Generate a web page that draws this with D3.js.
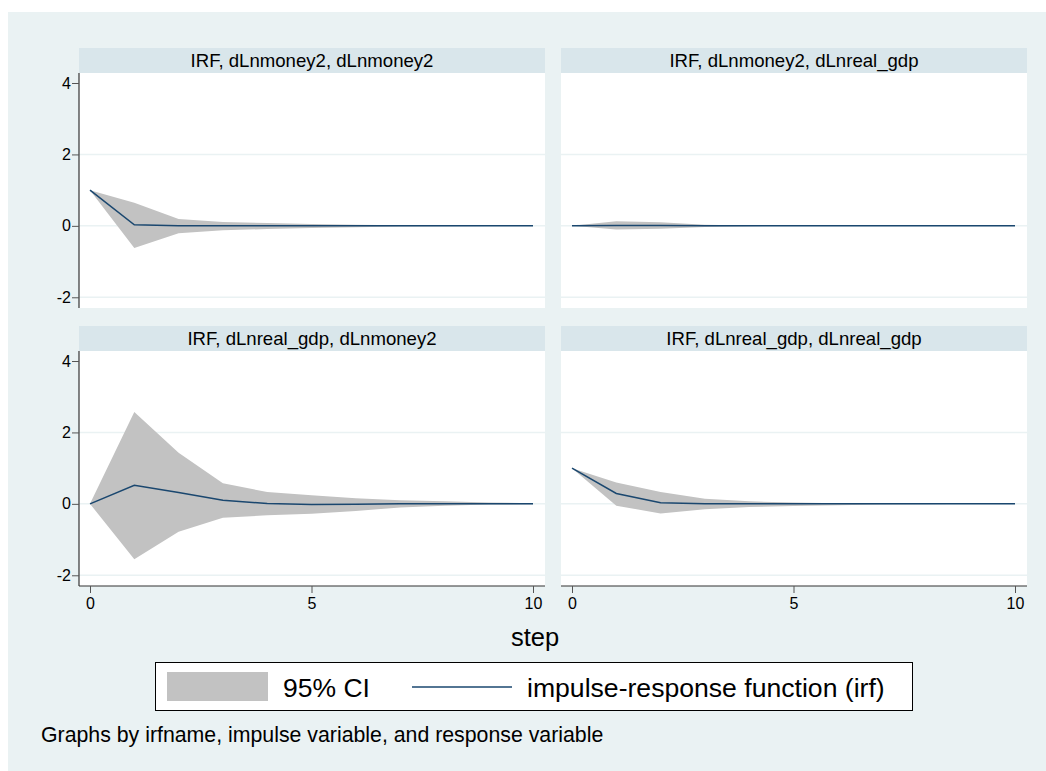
<!DOCTYPE html>
<html lang="en">
<head>
<meta charset="UTF-8">
<title>IRF graphs</title>
<style>
  body, html { margin: 0; padding: 0; background: #fff; }
  svg { display: block; font-family: "Liberation Sans", Arial, sans-serif; }
</style>
</head>
<body>
<svg id="chart" width="1046" height="771"></svg>

<script src="https://cdn.jsdelivr.net/npm/d3@7"></script>
<script>
// step axis
const steps = [0, 1, 2, 3, 4, 5, 6, 7, 8, 9, 10];
const yTicks = [-2, 0, 2, 4];
const xTicks = [0, 5, 10];

const panelTitles = [
  "IRF, dLnmoney2, dLnmoney2",
  "IRF, dLnmoney2, dLnreal_gdp",
  "IRF, dLnreal_gdp, dLnmoney2",
  "IRF, dLnreal_gdp, dLnreal_gdp"
];

// impulse dLnmoney2 -> response dLnmoney2
const irfMM   = [1, 0.03, 0, 0, 0, 0, 0, 0, 0, 0, 0];
const lowerMM = [1, -0.62, -0.21, -0.12, -0.09, -0.06, -0.04, -0.02, -0.01, -0.005, 0];
const upperMM = [1, 0.65, 0.19, 0.11, 0.08, 0.05, 0.03, 0.02, 0.01, 0.005, 0];

// impulse dLnmoney2 -> response dLnreal_gdp
const irfMG   = [0, 0.01, 0.01, 0, 0, 0, 0, 0, 0, 0, 0];
const lowerMG = [0, -0.1, -0.08, -0.03, -0.01, 0, 0, 0, 0, 0, 0];
const upperMG = [0, 0.13, 0.1, 0.03, 0.01, 0, 0, 0, 0, 0, 0];

// impulse dLnreal_gdp -> response dLnmoney2
const irfGM   = [0, 0.52, 0.32, 0.1, 0.01, -0.02, -0.01, 0, 0, 0, 0];
const lowerGM = [0, -1.55, -0.78, -0.39, -0.32, -0.28, -0.2, -0.1, -0.05, -0.02, -0.01];
const upperGM = [0, 2.57, 1.43, 0.58, 0.33, 0.24, 0.16, 0.1, 0.07, 0.04, 0.02];

// impulse dLnreal_gdp -> response dLnreal_gdp
const irfGG   = [1, 0.29, 0.03, 0, 0, 0, 0, 0, 0, 0, 0];
const lowerGG = [1, -0.05, -0.27, -0.15, -0.09, -0.06, -0.04, -0.02, -0.01, 0, 0];
const upperGG = [1, 0.6, 0.33, 0.14, 0.07, 0.04, 0.02, 0.01, 0, 0, 0];

const irfs   = [irfMM, irfMG, irfGM, irfGG];
const lowers = [lowerMM, lowerMG, lowerGM, lowerGG];
const uppers = [upperMM, upperMG, upperGM, upperGG];

const bgColor = "#eaf2f3";
const stripColor = "#d9e6eb";
const ciColor = "#c2c2c2";
const lineColor = "#1a476f";

const svg = d3.select("#chart");

// outer graph region
svg.append("rect")
  .attr("x", 8).attr("y", 12)
  .attr("width", 1038).attr("height", 759)
  .attr("fill", bgColor);

// panel geometry
const colX = [79, 561];
const rowY = [48, 326];
const panelW = 466;
const stripH = 25;
const plotH = 235;

const y = d3.scaleLinear().domain([-2.3, 4.28]).range([plotH, 0]);

panelTitles.forEach((title, i) => {
  const col = i % 2, row = Math.floor(i / 2);
  const g = svg.append("g")
    .attr("transform", `translate(${colX[col]},${rowY[row]})`);

  const x = d3.scaleLinear().domain([0, 10]).range([11, 454]);

  // strip
  g.append("rect")
    .attr("width", panelW).attr("height", stripH)
    .attr("fill", stripColor);
  g.append("text")
    .attr("x", panelW / 2).attr("y", 18.5)
    .attr("text-anchor", "middle")
    .style("font-size", "18.6px")
    .text(title);

  const p = g.append("g").attr("transform", `translate(0,${stripH})`);

  p.append("rect")
    .attr("width", panelW).attr("height", plotH)
    .attr("fill", "#fff");

  // grid lines
  p.selectAll(".grid")
    .data(yTicks.filter(t => t < 4))
    .enter().append("line")
    .attr("x1", 0).attr("x2", panelW)
    .attr("y1", d => y(d)).attr("y2", d => y(d))
    .attr("stroke", bgColor)
    .attr("stroke-width", 1.5);

  const band = steps.map((s, k) => ({ s, lo: lowers[i][k], hi: uppers[i][k], v: irfs[i][k] }));

  const area = d3.area()
    .x(d => x(d.s))
    .y0(d => y(d.lo))
    .y1(d => y(d.hi));

  p.append("path")
    .datum(band)
    .attr("d", area)
    .attr("fill", ciColor);

  const line = d3.line()
    .x(d => x(d.s))
    .y(d => y(d.v));

  p.append("path")
    .datum(band)
    .attr("d", line)
    .attr("fill", "none")
    .attr("stroke", lineColor)
    .attr("stroke-width", 1.5);

  // y axis on left column
  if (col === 0) {
    const ya = p.append("g")
      .call(d3.axisLeft(y).tickValues(yTicks).tickSize(7).tickPadding(1)
        .tickFormat(d => String(d)));
    ya.select(".domain").attr("stroke", "#333").attr("stroke-width", 1.2)
      .attr("d", `M0,0V${plotH}`);
    ya.selectAll(".tick line").attr("stroke", "#555");
    ya.attr("font-size", 16).attr("font-family", null);
    ya.selectAll(".tick text").attr("fill", "#000");
  }

  // x axis on bottom row
  if (row === 1) {
    const xa = p.append("g")
      .attr("transform", `translate(0,${plotH})`)
      .call(d3.axisBottom(x).tickValues(xTicks).tickSize(7).tickPadding(5)
        .tickFormat(d => String(d)));
    xa.select(".domain").attr("stroke", "#333").attr("stroke-width", 1.2)
      .attr("d", `M0,0H${panelW}`);
    xa.selectAll(".tick line").attr("stroke", "#555");
    xa.attr("font-size", 16).attr("font-family", null);
    xa.selectAll(".tick text").attr("fill", "#000");
  }
});

// x axis title
svg.append("text")
  .attr("x", 535).attr("y", 646)
  .attr("text-anchor", "middle")
  .style("font-size", "25.5px")
  .text("step");

// legend
const legend = svg.append("g");
legend.append("rect")
  .attr("x", 155.5).attr("y", 662.5)
  .attr("width", 757).attr("height", 48)
  .attr("fill", "#fff")
  .attr("stroke", "#000")
  .attr("stroke-width", 1);
legend.append("rect")
  .attr("x", 167).attr("y", 672)
  .attr("width", 101).attr("height", 29)
  .attr("fill", ciColor);
legend.append("text")
  .attr("x", 283).attr("y", 697)
  .style("font-size", "26.5px")
  .text("95% CI");
legend.append("line")
  .attr("x1", 412).attr("x2", 512)
  .attr("y1", 687).attr("y2", 687)
  .attr("stroke", lineColor)
  .attr("stroke-width", 1.6);
legend.append("text")
  .attr("x", 527).attr("y", 697)
  .style("font-size", "26.6px")
  .text("impulse-response function (irf)");

// note
svg.append("text")
  .attr("x", 41).attr("y", 742)
  .style("font-size", "21.3px")
  .text("Graphs by irfname, impulse variable, and response variable");
</script>
</body>
</html>
